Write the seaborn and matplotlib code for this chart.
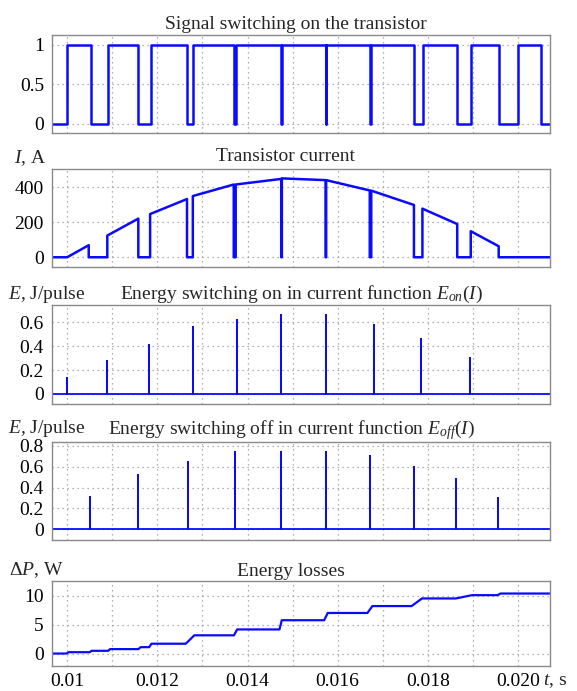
import numpy as np
import pandas as pd
import matplotlib
matplotlib.use("Agg")
import matplotlib.pyplot as plt
import seaborn as sns

# ---------------- data ----------------
t_min, t_max = 0.00967, 0.02071

# gate signal: switch-on / switch-off instants
sig_on = [0.01000, 0.010896, 0.011857, 0.012787, 0.013735, 0.014762,
          0.015745, 0.016745, 0.017883, 0.018955, 0.020000]
sig_off = [0.010521, 0.011570, 0.012665, 0.013700, 0.014748, 0.015733,
           0.016712, 0.017690, 0.018650, 0.019575, 0.020521]

# transistor current pulses
cur_t_start = [0.01000, 0.010890, 0.011840, 0.012787, 0.013738, 0.014762,
               0.015745, 0.016745, 0.017880, 0.018952]
cur_t_end = [0.010478, 0.011578, 0.012658, 0.013695, 0.014748, 0.015733,
             0.016712, 0.017692, 0.018652, 0.019572]
cur_I_start = [0, 124, 247, 350, 416, 451, 441, 381, 278, 149]
cur_I_end = [69, 221, 333, 416, 448, 441, 382, 299, 190, 63]

# switch-on energy per pulse
eon_t = [0.01000, 0.010879, 0.011824, 0.012785, 0.013762, 0.014739,
         0.015741, 0.016799, 0.017858, 0.018941]
eon_E = [0.13, 0.28, 0.41, 0.56, 0.62, 0.665, 0.665, 0.58, 0.46, 0.30]

# switch-off energy per pulse
eoff_t = [0.010497, 0.011572, 0.012671, 0.013713, 0.014739, 0.015733,
          0.016710, 0.017687, 0.018624, 0.019560]
eoff_E = [0.31, 0.52, 0.65, 0.74, 0.74, 0.74, 0.70, 0.60, 0.48, 0.30]

# accumulated energy losses
loss_t = [0.00967, 0.00999, 0.01003, 0.01050, 0.01054, 0.01091, 0.01095,
          0.01158, 0.01163, 0.01182, 0.01187, 0.01263, 0.01282, 0.01370,
          0.01377, 0.01471, 0.01476, 0.01570, 0.01578, 0.01666, 0.01677,
          0.01764, 0.01787, 0.01862, 0.01898, 0.01955, 0.01961, 0.02071]
loss_P = [0.0, 0.0, 0.23, 0.23, 0.47, 0.47, 0.76, 0.76, 1.1, 1.1, 1.69,
          1.69, 3.14, 3.14, 4.15, 4.15, 5.74, 5.74, 6.99, 6.99, 8.18, 8.18,
          9.49, 9.49, 10.06, 10.06, 10.34, 10.34]

x_ticks = [0.010, 0.011, 0.012, 0.013, 0.014, 0.015, 0.016, 0.017,
           0.018, 0.019, 0.020]
x_ticklabels = ["0.01", "", "0.012", "", "0.014", "", "0.016", "",
                "0.018", "", "0.020"]

sig_yticks, sig_ylabels = [0, 0.5, 1], ["0", "0.5", "1"]
cur_yticks, cur_ylabels = [0, 200, 400], ["0", "200", "400"]
eon_yticks, eon_ylabels = [0, 0.2, 0.4, 0.6], ["0", "0.2", "0.4", "0.6"]
eoff_yticks, eoff_ylabels = [0, 0.2, 0.4, 0.6, 0.8], ["0", "0.2", "0.4", "0.6", "0.8"]
loss_yticks, loss_ylabels = [0, 5, 10], ["0", "5", "10"]

titles = ["Signal switching on the transistor",
          "Transistor current",
          r"Energy switching on in current function $E_{on}(I)$",
          r"Energy switching off in current function $E_{off}(I)$",
          "Energy losses"]
ylabels = [None, r"$I$, A", r"$E$, J/pulse", r"$E$, J/pulse", r"$\Delta P$, W"]

# ---------------- build plotted series ----------------
def step_signal():
    t, v = [t_min], [0]
    for a, b in zip(sig_on, sig_off):
        t += [a, a, b, b]
        v += [0, 1, 1, 0]
    t.append(t_max); v.append(0)
    return pd.DataFrame({"t": t, "v": v})

def current_series():
    t, v = [t_min], [0]
    for a, b, ia, ib in zip(cur_t_start, cur_t_end, cur_I_start, cur_I_end):
        t += [a, a, b, b]
        v += [0, ia, ib, 0]
    t.append(t_max); v.append(0)
    return pd.DataFrame({"t": t, "v": v})

def spike_series(ts, es):
    t, v = [t_min], [0]
    for a, e in zip(ts, es):
        t += [a, a, a]
        v += [0, e, 0]
    t.append(t_max); v.append(0)
    return pd.DataFrame({"t": t, "v": v})

df_sig = step_signal()
df_cur = current_series()
df_eon = spike_series(eon_t, eon_E)
df_eoff = spike_series(eoff_t, eoff_E)
df_loss = pd.DataFrame({"t": loss_t, "v": loss_P})

# ---------------- style ----------------
sns.set_theme(style="white")
plt.rcParams["font.family"] = ["Liberation Serif", "DejaVu Serif"]
plt.rcParams["mathtext.fontset"] = "custom"
plt.rcParams["mathtext.rm"] = "Liberation Serif"
plt.rcParams["mathtext.it"] = "Liberation Serif:italic"
plt.rcParams["mathtext.bf"] = "Liberation Serif:bold"

W, H = 577, 691
fig = plt.figure(figsize=(W / 100, H / 100), dpi=100)

BLUE = "#0a0aff"
FS = 14

# axes rectangles in pixels: (top, bottom)
rects = [(35.3, 133.3), (169.3, 266.7), (305.0, 403.5), (441.7, 540.0), (581.0, 666.3)]
left_px, right_px = 52.3, 550.0
ylims = [(-0.12, 1.12), (-54, 503), (-0.08, 0.745), (-0.103, 0.841), (-2.2, 12.5)]
yticks = [sig_yticks, cur_yticks, eon_yticks, eoff_yticks, loss_yticks]
yticklabels = [sig_ylabels, cur_ylabels, eon_ylabels, eoff_ylabels, loss_ylabels]
frames = [df_sig, df_cur, df_eon, df_eoff, df_loss]
lws = [1.8, 1.8, 1.3, 1.3, 1.6]
title_pads = [6.7, 8.6, 6.0, 4.0, 5.0]
title_dx = [-5, -16, 0, -10, -10]
ylabel_pos = [None, (14, 163.5), (8, 299), (8, 433), (9, 575)]

for i in range(5):
    top, bot = rects[i]
    ax = fig.add_axes([left_px / W, 1 - bot / H, (right_px - left_px) / W, (bot - top) / H])
    sns.lineplot(data=frames[i], x="t", y="v", sort=False, estimator=None,
                 color=BLUE, lw=lws[i], ax=ax, legend=False)
    ax.set_xlim(t_min, t_max)
    ax.set_ylim(*ylims[i])
    ax.set_xticks(x_ticks)
    if i == 4:
        ax.set_xticklabels(x_ticklabels)
    else:
        ax.set_xticklabels([""] * len(x_ticks))
    ax.set_yticks(yticks[i])
    ax.set_yticklabels(yticklabels[i])
    ax.set_xlabel("")
    ax.set_ylabel("")
    ax.tick_params(axis="both", length=0, labelsize=FS, colors="black")
    ax.tick_params(axis="y", pad=6)
    ax.tick_params(axis="x", pad=4.5)
    ax.grid(True, color="#9a9a9a", linestyle=(0, (1, 3)), linewidth=0.9)
    for s in ax.spines.values():
        s.set_color("#8a8a8a")
        s.set_linewidth(1.0)
    ax.set_title(titles[i], fontsize=FS, pad=title_pads[i] * 0.72,
                 x=0.5 + title_dx[i] / (right_px - left_px))
    if ylabel_pos[i] is not None:
        x, y = ylabel_pos[i]
        fig.text(x / W, 1 - y / H, ylabels[i], fontsize=FS, ha="left", va="baseline")

fig.text(543 / W, 1 - 685 / H, r"$t$, s", fontsize=FS, ha="left", va="baseline")

fig.savefig("out.png", dpi=100)
